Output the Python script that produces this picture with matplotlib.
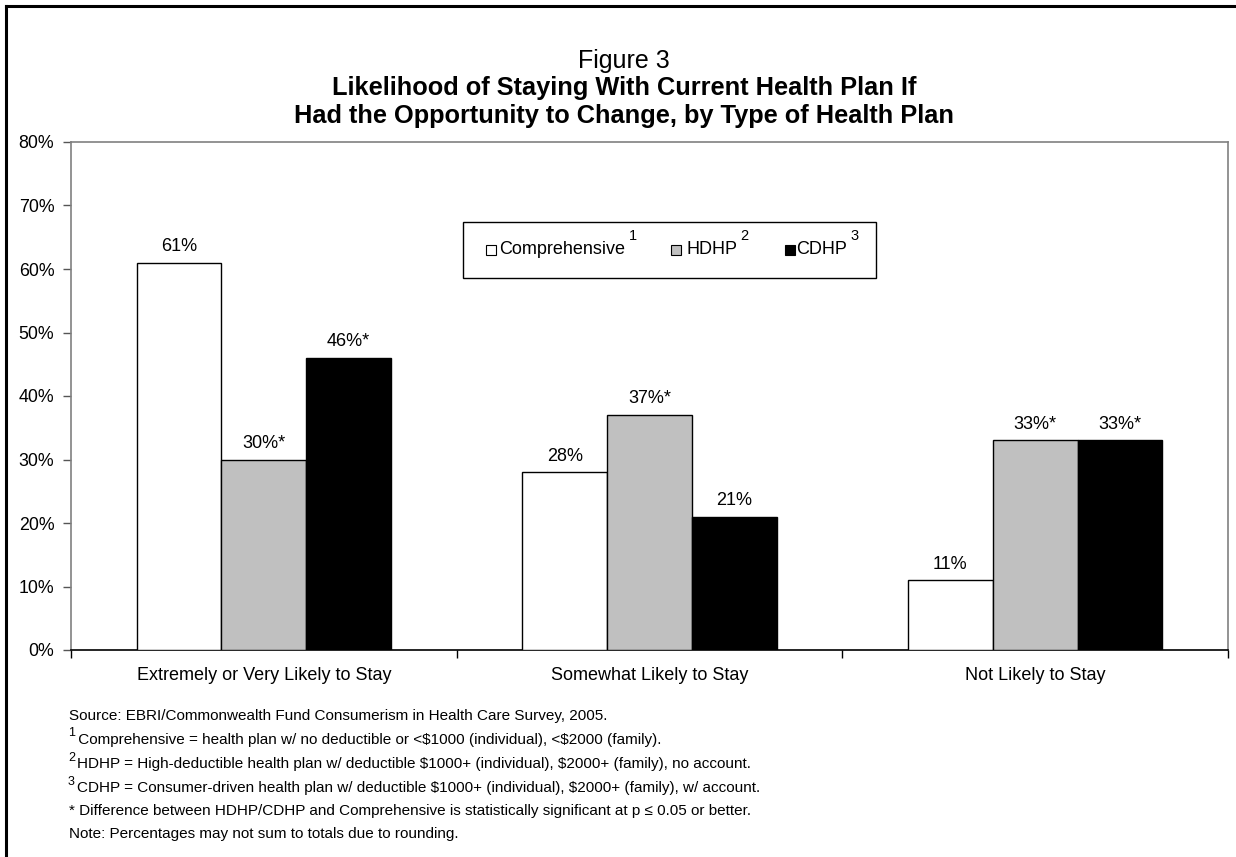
import matplotlib
matplotlib.use("Agg")
import matplotlib.pyplot as plt
from matplotlib.patches import Rectangle
from matplotlib.lines import Line2D
import numpy as np

plt.rcParams['font.family'] = ['Liberation Sans', 'DejaVu Sans']

categories = ["Extremely or Very Likely to Stay", "Somewhat Likely to Stay", "Not Likely to Stay"]
series_names = ["Comprehensive", "HDHP", "CDHP"]
comprehensive = [61, 28, 11]
hdhp = [30, 37, 33]
cdhp = [46, 21, 33]
comprehensive_sig = [False, False, False]
hdhp_sig = [True, True, True]
cdhp_sig = [True, False, True]
y_ticks = [0, 10, 20, 30, 40, 50, 60, 70, 80]
colors = ["white", "#C0C0C0", "black"]

footnotes = [
    "Source: EBRI/Commonwealth Fund Consumerism in Health Care Survey, 2005.",
    " Comprehensive = health plan w/ no deductible or <\\$1000 (individual), <\\$2000 (family).",
    "HDHP = High-deductible health plan w/ deductible \\$1000+ (individual), \\$2000+ (family), no account.",
    "CDHP = Consumer-driven health plan w/ deductible \\$1000+ (individual), \\$2000+ (family), w/ account.",
    "* Difference between HDHP/CDHP and Comprehensive is statistically significant at p \u2264 0.05 or better.",
    "Note: Percentages may not sum to totals due to rounding.",
]

W, H = 1236, 857
fig = plt.figure(figsize=(W / 100, H / 100), dpi=100)

def fx(px):
    return px / W

def fy(py):
    return 1 - py / H

ax = fig.add_axes([fx(71), fy(650), fx(1228) - fx(71), fy(142) - fy(650)])

x = np.arange(len(categories))
width = 0.22
all_series = [comprehensive, hdhp, cdhp]
all_sig = [comprehensive_sig, hdhp_sig, cdhp_sig]
for i, (vals, sig, col) in enumerate(zip(all_series, all_sig, colors)):
    pos = x + (i - 1) * width
    bars = ax.bar(pos, vals, width=width, color=col, edgecolor="black", linewidth=1.0, zorder=3)
    for b, v, s in zip(bars, vals, sig):
        ax.annotate(f"{v}%" + ("*" if s else ""), (b.get_x() + b.get_width() / 2, v),
                    xytext=(0, 5.5), textcoords="offset points", ha="center", va="bottom",
                    fontsize=13)

ax.set_xlim(-0.5, 2.5)
ax.set_ylim(0, 80)
ax.set_yticks(y_ticks)
ax.set_yticklabels([f"{t}%" for t in y_ticks], fontsize=12.8)
ax.set_xticks([-0.5, 0.5, 1.5, 2.5])
ax.set_xticklabels([])
ax.set_xticks(x, minor=True)
ax.set_xticklabels(categories, minor=True, fontsize=13)
ax.tick_params(axis="x", which="major", length=6, width=1, color="black", direction="out")
ax.tick_params(axis="x", which="minor", length=0, pad=12)
ax.tick_params(axis="y", length=6, width=1, color="#555555", direction="out", pad=6)

for side in ["top", "right", "left"]:
    ax.spines[side].set_color("#808080")
    ax.spines[side].set_linewidth(1.2)
ax.spines["bottom"].set_color("black")
ax.spines["bottom"].set_linewidth(1.2)

# Title
fig.text(fx(624), fy(61), "Figure 3", ha="center", va="center", fontsize=18)
fig.text(fx(624), fy(88), "Likelihood of Staying With Current Health Plan If",
         ha="center", va="center", fontsize=18.3, fontweight="bold")
fig.text(fx(624), fy(116), "Had the Opportunity to Change, by Type of Health Plan",
         ha="center", va="center", fontsize=18.3, fontweight="bold")

# Legend box
fig.patches.append(Rectangle((fx(463), fy(278)), fx(876) - fx(463), fy(222) - fy(278),
                             transform=fig.transFigure, facecolor="white",
                             edgecolor="black", linewidth=1.0, zorder=5))
legend_items = [(486, 499, 633), (671, 687, 744), (785, 796, 855)]
for k, ((sq, tx, sup), name, col) in enumerate(zip(legend_items, series_names, colors)):
    fig.patches.append(Rectangle((fx(sq), fy(255)), fx(10), 10 / H,
                                 transform=fig.transFigure, facecolor=col,
                                 edgecolor="black", linewidth=0.8, zorder=6))
    fig.text(fx(tx), fy(249), name, ha="left", va="center", fontsize=13, zorder=7)
    fig.text(fx(sup), fy(236), str(k + 1), ha="center", va="center", fontsize=10.5, zorder=7)

# Footnotes
foot_y = [716, 740, 764, 788, 811, 834]
foot_x = [69, 74, 77, 77, 69, 69]
for txt, yy, xx in zip(footnotes, foot_y, foot_x):
    fig.text(fx(xx), fy(yy), txt, ha="left", va="center", fontsize=11)
for num, yy in zip(["1", "2", "3"], [733, 758, 782]):
    fig.text(fx(68), fy(yy), num, ha="left", va="center", fontsize=9)

# Frame lines
fig.add_artist(Line2D([fx(6), fx(6)], [0, fy(6)], color="black", linewidth=2.2,
                      transform=fig.transFigure))
fig.add_artist(Line2D([fx(6), 1], [fy(6), fy(6)], color="black", linewidth=2.2,
                      transform=fig.transFigure))

fig.savefig("out.png", dpi=100)
